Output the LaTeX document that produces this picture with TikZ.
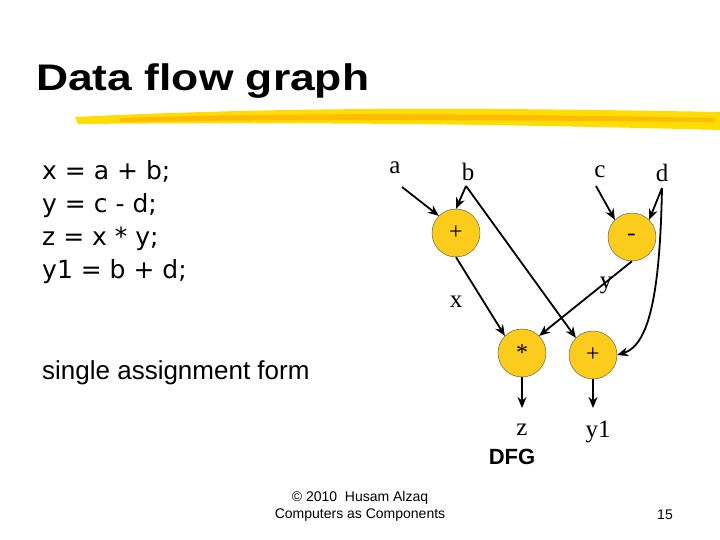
\documentclass[tikz,border=0pt]{standalone}
\usepackage{fontspec}
\setmainfont{Liberation Sans}
\newfontfamily\serif{Liberation Serif}
\newfontfamily\codefont{DejaVu Sans}
\usetikzlibrary{arrows.meta}
\begin{document}
\begin{tikzpicture}[x=1pt,y=-1pt,
  op/.style={circle,draw=black!70,fill=yellow!60!orange!90!white,minimum size=48pt,inner sep=0pt,font=\serif\fontsize{24}{24}\selectfont},
  lbl/.style={font=\serif\fontsize{25}{25}\selectfont},
  arr/.style={-{Stealth[length=11pt,width=9pt]},line width=1.8pt}]
\useasboundingbox (0,0) rectangle (720,540);
\fill[white] (0,0) rectangle (720,540);
% brush stroke
\fill[yellow!80!orange] (75,117) .. controls (300,106) and (500,108) .. (720,112) -- (720,130) .. controls (500,124) and (300,122) .. (78,124) -- cycle;
\fill[orange!70!yellow,opacity=0.6] (120,118) .. controls (300,112) and (500,114) .. (715,118) -- (715,122) .. controls (500,120) and (300,119) .. (120,122) -- cycle;
\node[anchor=west,font=\bfseries\fontsize{37}{37}\selectfont,xscale=1.2] (title) at (32,81) {Data flow graph};
\node[anchor=north west,align=left,font=\codefont\fontsize{25}{33}\selectfont,inner sep=0pt] (code) at (42,160) {x = a + b;\\y = c - d;\\z = x * y;\\y1 = b + d;};
\node[anchor=west,font=\fontsize{26}{26}\selectfont,inner sep=0pt] (saf) at (42,373) {single assignment form};
\node[op] (p1) at (456,233) {+};
\node[op] (m) at (632,237) {\sffamily\bfseries -};
\node[op] (st) at (522,353) {*};
\node[op] (p2) at (593,355) {+};
\node[lbl] (a) at (395,168) {a};
\node[lbl] (b) at (468,172) {b};
\node[lbl] (c) at (600,172) {c};
\node[lbl] (d) at (662,173) {d};
\node[lbl] (x) at (456,302) {x};
\node[lbl] (y) at (606,285) {y};
\node[lbl] (z) at (522,430) {z};
\node[lbl] (y1) at (598,432) {y1};
\node[font=\bfseries\fontsize{22}{22}\selectfont] (dfg) at (512,457) {DFG};
\coordinate (zt) at (522,408);
\coordinate (y1t) at (593,408);
\draw[arr] (402,187) -- (p1.north west);
\draw[arr] (466,186) -- (p1.north);
\draw[arr] (466,186) -- (p2.north west);
\draw[arr] (596,186) -- (m.north west);
\draw[arr] (662,188) -- (m.north east);
\draw[arr] (662,188) .. controls (660,290) and (650,345) .. (p2.east);
\draw[arr] (p1.south) -- (st.north west);
\draw[arr] (m.south) -- (st.north east);
\draw[arr] (st.south) -- (zt);
\draw[arr] (p2.south) -- (y1t);
\node[align=center,font=\fontsize{14}{17}\selectfont] (foot) at (360,506) {© 2010 \ Husam Alzaq\\Computers as Components};
\node[font=\fontsize{14}{14}\selectfont] (pg) at (665,515) {15};
\end{tikzpicture}
\end{document}
